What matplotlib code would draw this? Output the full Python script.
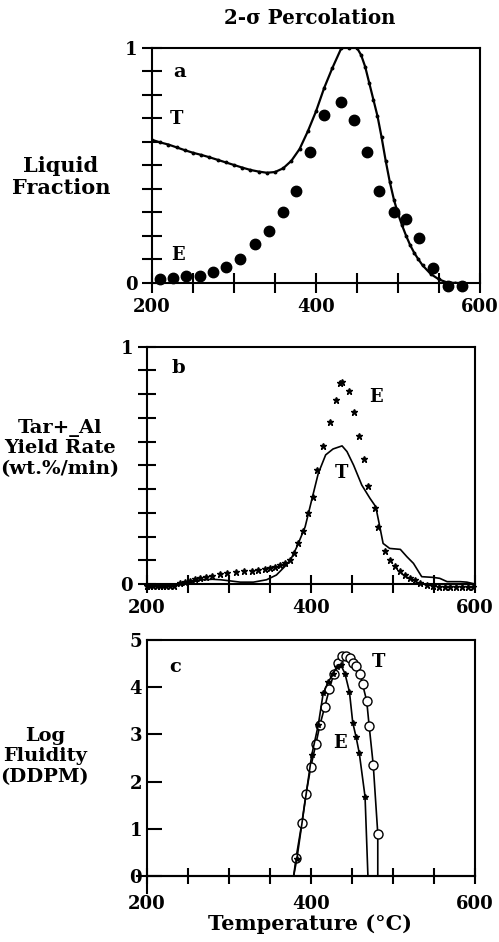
import numpy as np
import matplotlib
matplotlib.use('Agg')
import matplotlib.pyplot as plt

# serif bold everywhere, looks like the old journal figure
plt.rcParams['font.family'] = 'DejaVu Serif'
plt.rcParams['font.weight'] = 'bold'
plt.rcParams['font.size'] = 13

# --- panel a : liquid fraction ---
a_T_x = [200, 210, 220, 230, 240, 250, 260, 270, 280, 290, 300, 310, 320, 330, 340,
         350, 360, 370, 380, 390, 400, 410, 420, 431, 440, 450, 455, 460, 465, 470,
         475, 480, 485, 490, 495, 500, 505, 510, 515, 520, 525, 530, 540, 550, 560,
         570, 580]
a_T_y = [0.609, 0.598, 0.589, 0.577, 0.565, 0.554, 0.545, 0.535, 0.524, 0.513, 0.502,
         0.491, 0.481, 0.474, 0.469, 0.472, 0.488, 0.520, 0.570, 0.645, 0.730, 0.830,
         0.915, 1.0, 1.0, 1.0, 0.97, 0.92, 0.85, 0.78, 0.71, 0.62, 0.52, 0.43, 0.355,
         0.295, 0.245, 0.20, 0.16, 0.127, 0.10, 0.075, 0.038, 0.015, 0.002, 0.0, 0.0]
a_E_x = [210, 226, 242, 258, 274, 290, 307, 326, 343, 360, 376, 393, 410, 430, 446,
         462, 477, 495, 510, 526, 543, 561, 578]
a_E_y = [0.018, 0.023, 0.028, 0.031, 0.047, 0.068, 0.104, 0.164, 0.22, 0.30, 0.393,
         0.559, 0.715, 0.771, 0.694, 0.556, 0.393, 0.301, 0.272, 0.19, 0.062, -0.013,
         -0.013]

# --- panel b : tar yield rate ---
b_T_x = [200, 230, 245, 253, 265, 280, 290, 300, 314, 330, 346, 358, 370, 375, 383,
         393, 401, 409, 418, 427, 438, 444, 452, 462, 472, 479, 484, 488, 496, 509,
         517, 525, 535, 549, 557, 566, 582, 590, 600]
b_T_y = [0.0, 0.0, 0.0, 0.006, 0.017, 0.020, 0.018, 0.014, 0.008, 0.008, 0.018, 0.038,
         0.080, 0.10, 0.157, 0.241, 0.354, 0.466, 0.544, 0.569, 0.582, 0.558, 0.501,
         0.417, 0.361, 0.326, 0.241, 0.171, 0.150, 0.146, 0.115, 0.087, 0.031, 0.028,
         0.024, 0.010, 0.010, 0.008, 0.0]
b_E_x = [200, 204, 208, 212, 216, 220, 224, 228, 233, 240, 247, 253, 259, 265, 272,
         279, 289, 298, 309, 318, 328, 336, 344, 350, 356, 362, 368, 374, 379, 384,
         391, 397, 402, 407, 415, 423, 430, 435, 438, 447, 453, 459, 465, 470, 478,
         482, 490, 496, 502, 509, 515, 521, 527, 533, 541, 549, 556, 563, 570, 577,
         584, 591, 598]
b_E_y = [-0.008, -0.008, -0.008, -0.008, -0.008, -0.008, -0.008, -0.008, -0.008,
         0.003, 0.008, 0.014, 0.020, 0.024, 0.028, 0.034, 0.042, 0.045, 0.051, 0.053,
         0.056, 0.059, 0.062, 0.066, 0.073, 0.081, 0.090, 0.101, 0.129, 0.171, 0.225,
         0.298, 0.368, 0.480, 0.581, 0.681, 0.775, 0.848, 0.851, 0.812, 0.723, 0.625,
         0.525, 0.414, 0.319, 0.241, 0.14, 0.10, 0.075, 0.056, 0.04, 0.027, 0.015,
         0.005, -0.004, -0.01, -0.012, -0.012, -0.012, -0.012, -0.012, -0.012, -0.012]

# --- panel c : log fluidity ---
c_T_x = [379, 382, 389, 394, 400, 406, 411, 417, 422.5, 428, 433, 437.5, 442.5, 447.5,
         451.5, 455, 460, 463, 468, 471, 476, 481.5, 481.5]
c_T_y = [0.0, 0.39, 1.12, 1.73, 2.32, 2.79, 3.2, 3.59, 3.96, 4.29, 4.52, 4.66, 4.66,
         4.61, 4.51, 4.45, 4.29, 4.06, 3.71, 3.18, 2.35, 0.90, 0.0]
c_E_x = [379, 383, 401, 409, 415, 421, 427, 432, 436.5, 441.5, 447, 451, 455, 459,
         466, 469.5]
c_E_y = [0.0, 0.37, 2.56, 3.2, 3.87, 4.10, 4.29, 4.43, 4.47, 4.29, 3.9, 3.25, 2.95,
         2.6, 1.68, 0.0]

x_ticks = np.arange(200, 601, 50)
x_labels = ['200', '', '', '', '400', '', '', '', '600']

fig = plt.figure(figsize=(4.99, 9.42), dpi=100)
ax_a = fig.add_axes([0.3046, 0.6996, 0.6573, 0.2495])
ax_b = fig.add_axes([0.294, 0.380, 0.658, 0.252])
ax_c = fig.add_axes([0.294, 0.0515, 0.658, 0.2691])

for ax in (ax_a, ax_b, ax_c):
    for sp in ax.spines.values():
        sp.set_linewidth(1.5)
    ax.set_xlim(200, 600)
    ax.set_xticks(x_ticks)
    ax.set_xticklabels(x_labels)

# panel a
ax_a.plot(a_T_x, a_T_y, color='black', lw=1.6, marker='o', ms=1.8)
ax_a.plot(a_E_x, a_E_y, 'o', color='black', ms=7.5, clip_on=False)
ax_a.set_ylim(0, 1)
ax_a.set_yticks(np.arange(0, 1.01, 0.1))
ax_a.set_yticklabels(['0'] + [''] * 9 + ['1'])
ax_a.tick_params(direction='inout', length=14, width=1.5)
ax_a.tick_params(axis='x', pad=4)
ax_a.text(234, 0.899, 'a', ha='center', va='center', fontsize=14)
ax_a.text(230, 0.697, 'T', ha='center', va='center', fontsize=13)
ax_a.text(232, 0.119, 'E', ha='center', va='center', fontsize=13)

# panel b
ax_b.plot(b_T_x, b_T_y, color='black', lw=1.2)
ax_b.plot(b_E_x, b_E_y, '*', color='black', ms=4.5, clip_on=False)
ax_b.set_ylim(0, 1)
ax_b.set_yticks(np.arange(0, 1.01, 0.1))
ax_b.set_yticklabels(['0'] + [''] * 9 + ['1'])
ax_b.tick_params(direction='inout', length=13, width=1.5)
ax_b.tick_params(axis='x', pad=4)
ax_b.text(238.5, 0.909, 'b', ha='center', va='center', fontsize=14)
ax_b.text(479.4, 0.787, 'E', ha='center', va='center', fontsize=13)
ax_b.text(437.6, 0.466, 'T', ha='center', va='center', fontsize=13)

# panel c, x axis sits at zero and the left spine runs a bit below it
ax_c.plot(c_T_x, c_T_y, color='black', lw=1.2, marker='o', ms=6.5, mfc='white',
          mec='black', mew=1.0, markevery=slice(1, -1))
ax_c.plot(c_E_x, c_E_y, color='black', lw=1.2, marker='*', ms=4,
          markevery=slice(1, -1))
ax_c.set_ylim(-0.37, 5)
ax_c.set_yticks(range(6))
ax_c.spines['bottom'].set_position(('data', 0))
ax_c.spines['right'].set_bounds(0, 5)
# zero line pokes out a little to the left of the axis
ax_c.axhline(0, xmin=-0.03, xmax=1, color='black', lw=1.5, clip_on=False)
ax_c.tick_params(axis='y', direction='in', length=11, width=1.5)
ax_c.tick_params(axis='x', direction='inout', length=12, width=1.5, pad=8)
ax_c.text(234.5, 4.43, 'c', ha='center', va='center', fontsize=14)
ax_c.text(482, 4.53, 'T', ha='center', va='center', fontsize=13)
ax_c.text(435.5, 2.81, 'E', ha='center', va='center', fontsize=13)

# titles and axis captions
fig.text(0.621, 0.981, '2-\u03c3 Percolation', ha='center', va='center', fontsize=14.3)
fig.text(0.122, 0.812, 'Liquid\nFraction', ha='center', va='center', fontsize=15,
         linespacing=1.13)
fig.text(0.12, 0.524, 'Tar+_Al\nYield Rate\n(wt.%/min)', ha='center', va='center',
         fontsize=14, linespacing=1.2)
fig.text(0.09, 0.197, 'Log\nFluidity\n(DDPM)', ha='center', va='center', fontsize=14,
         linespacing=1.2)
fig.text(0.621, 0.019, 'Temperature (\u00b0C)', ha='center', va='center', fontsize=15)

fig.savefig('out.png', dpi=100)
